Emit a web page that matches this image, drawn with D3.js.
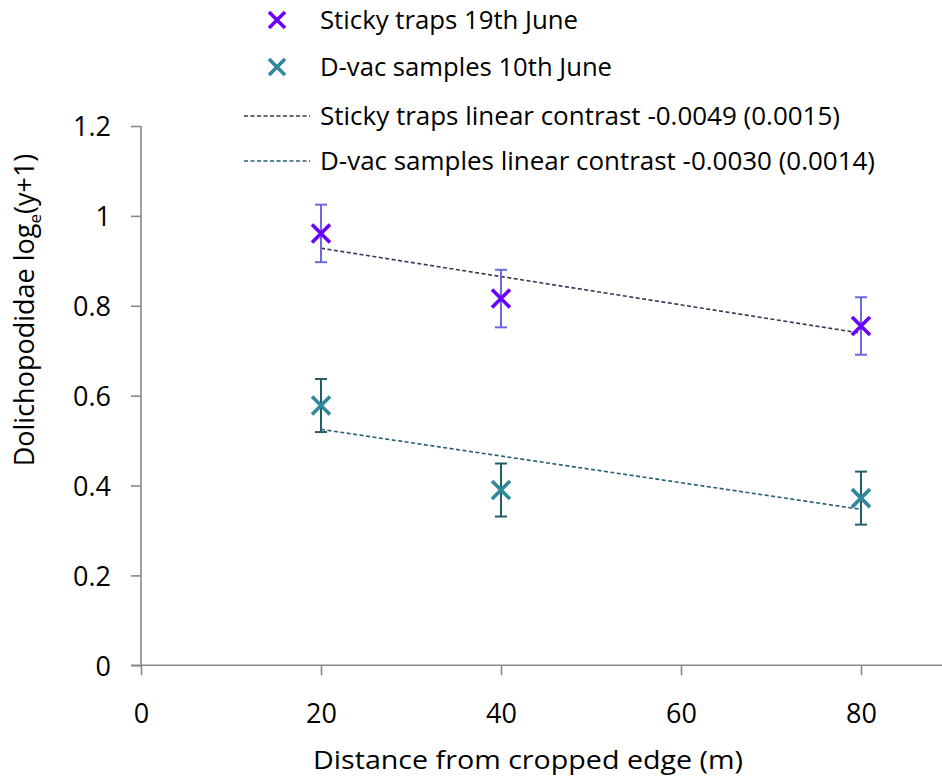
<!DOCTYPE html>
<html>
<head>
<meta charset="utf-8">
<script src="https://cdn.jsdelivr.net/npm/d3@7"></script>
<style>
  html, body { margin: 0; padding: 0; background: #fff; }
  svg { display: block; }
  text { font-family: "Open Sans", "Noto Sans", sans-serif; fill: #000; }
</style>
</head>
<body>
<svg id="chart" width="942" height="778"></svg>
<script>
// Distances from the cropped edge (m)
const distances = [20, 40, 80];

// Sticky traps, 19th June: means and standard errors of log_e(y+1)
const stickyMeans = [0.961, 0.816, 0.755];
const stickyErr = [0.064, 0.064, 0.064];

// D-vac samples, 10th June
const dvacMeans = [0.578, 0.390, 0.372];
const dvacErr = [0.059, 0.059, 0.059];

// Fitted linear-contrast lines (value at 20 m and at 80 m)
const trendX = [20, 80];
const stickyTrend = [0.928, 0.739];
const dvacTrend = [0.525, 0.347];

const xTicks = [0, 20, 40, 60, 80];
const yTicks = [0, 0.2, 0.4, 0.6, 0.8, 1, 1.2];

const legendLabels = [
  "Sticky traps 19th June",
  "D-vac samples 10th June",
  "Sticky traps linear contrast -0.0049 (0.0015)",
  "D-vac samples linear contrast -0.0030 (0.0014)"
];

const colors = {
  stickyMark: "#6a00ff",
  stickyBar: "#6b68e0",
  stickyLine: "#3b3452",
  dvacMark: "#31879c",
  dvacBar: "#245e6c",
  dvacLine: "#255f6e",
  axis: "#898989"
};

const svg = d3.select("#chart");

const x = d3.scaleLinear().domain([0, 90]).range([141, 951]);
const y = d3.scaleLinear().domain([0, 1.2]).range([665.3, 126]);

// Axes
const yAxis = d3.axisLeft(y).tickValues(yTicks).tickSize(10).tickPadding(20)
  .tickFormat(d => d3.format("")(+d.toFixed(1)));
const xAxis = d3.axisBottom(x).tickValues(xTicks).tickSize(10).tickPadding(29)
  .tickFormat(d3.format("d"));

const gy = svg.append("g").attr("transform", `translate(${x(0)},0)`).call(yAxis);
const gx = svg.append("g").attr("transform", `translate(0,${y(0)})`).call(xAxis);

[gx, gy].forEach(g => {
  g.select(".domain").attr("stroke", colors.axis).attr("stroke-width", 1.6);
  g.selectAll(".tick line").attr("stroke", colors.axis).attr("stroke-width", 1.6);
  g.selectAll(".tick text")
    .attr("font-family", '"Open Sans", sans-serif')
    .attr("font-size", 27)
    .attr("fill", "#000");
});
gy.select(".domain").attr("d", `M0,${y(1.2)}H0V${y(0)}`);
gx.select(".domain").attr("d", `M${x(0) - 10},0H${x(90)}`);
gy.selectAll(".tick text").attr("dy", "0.36em");
gx.selectAll(".tick text").attr("dy", "0.71em");

// Axis titles
svg.append("text")
  .attr("x", 528).attr("y", 769)
  .attr("text-anchor", "middle")
  .attr("font-size", 25)
  .attr("textLength", 430).attr("lengthAdjust", "spacingAndGlyphs")
  .text("Distance from cropped edge (m)");

const yTitle = svg.append("text")
  .attr("transform", "translate(34,310) rotate(-90)")
  .attr("text-anchor", "middle")
  .attr("font-size", 27);
yTitle.append("tspan").text("Dolichopodidae log");
yTitle.append("tspan").attr("font-size", 17).attr("dy", 7).text("e");
yTitle.append("tspan").attr("dy", -7).text("(y+1)");

// Trend lines
const line = d3.line().x(d => x(d[0])).y(d => y(d[1]));
[[stickyTrend, colors.stickyLine], [dvacTrend, colors.dvacLine]].forEach(([vals, col]) => {
  svg.append("path")
    .datum(trendX.map((d, i) => [d, vals[i]]))
    .attr("d", line)
    .attr("fill", "none")
    .attr("stroke", col)
    .attr("stroke-width", 1.6)
    .attr("stroke-dasharray", "4,2.5");
});

// Error bars and X markers
function crossPath(cx, cy, r) {
  return `M${cx - r},${cy - r}L${cx + r},${cy + r}M${cx - r},${cy + r}L${cx + r},${cy - r}`;
}

function drawSeries(means, errs, barCol, markCol) {
  const g = svg.append("g");
  const pts = distances.map((d, i) => ({ d, m: means[i], e: errs[i] }));
  const bars = g.selectAll("g.bar").data(pts).join("g").attr("class", "bar")
    .attr("stroke", barCol).attr("stroke-width", 2).attr("fill", "none");
  bars.append("line")
    .attr("x1", p => x(p.d)).attr("x2", p => x(p.d))
    .attr("y1", p => y(p.m + p.e)).attr("y2", p => y(p.m - p.e));
  bars.append("line")
    .attr("x1", p => x(p.d) - 6).attr("x2", p => x(p.d) + 6)
    .attr("y1", p => y(p.m + p.e)).attr("y2", p => y(p.m + p.e));
  bars.append("line")
    .attr("x1", p => x(p.d) - 6).attr("x2", p => x(p.d) + 6)
    .attr("y1", p => y(p.m - p.e)).attr("y2", p => y(p.m - p.e));
  g.selectAll("path.mark").data(pts).join("path").attr("class", "mark")
    .attr("d", p => crossPath(x(p.d), y(p.m), 9))
    .attr("stroke", markCol).attr("stroke-width", 3.6).attr("fill", "none");
}

drawSeries(stickyMeans, stickyErr, colors.stickyBar, colors.stickyMark);
drawSeries(dvacMeans, dvacErr, colors.dvacBar, colors.dvacMark);

// Legend
const legendRows = [
  { type: "mark", col: colors.stickyMark, y: 20, w: 258 },
  { type: "mark", col: colors.dvacMark, y: 67, w: 292 },
  { type: "line", col: colors.stickyLine, y: 116, w: 520 },
  { type: "line", col: colors.dvacLine, y: 161, w: 555 }
];
const legend = svg.append("g");
legendRows.forEach((r, i) => {
  if (r.type === "mark") {
    legend.append("path")
      .attr("d", crossPath(277, r.y, 8))
      .attr("stroke", r.col).attr("stroke-width", 3.6).attr("fill", "none");
  } else {
    legend.append("line")
      .attr("x1", 244).attr("x2", 310).attr("y1", r.y).attr("y2", r.y)
      .attr("stroke", r.col).attr("stroke-width", 1.4)
      .attr("stroke-dasharray", "4,2.5");
  }
  legend.append("text")
    .attr("x", 320).attr("y", r.y).attr("dy", "0.36em")
    .attr("font-size", 25)
    .attr("textLength", r.w).attr("lengthAdjust", "spacingAndGlyphs")
    .text(legendLabels[i]);
});
</script>
</body>
</html>
